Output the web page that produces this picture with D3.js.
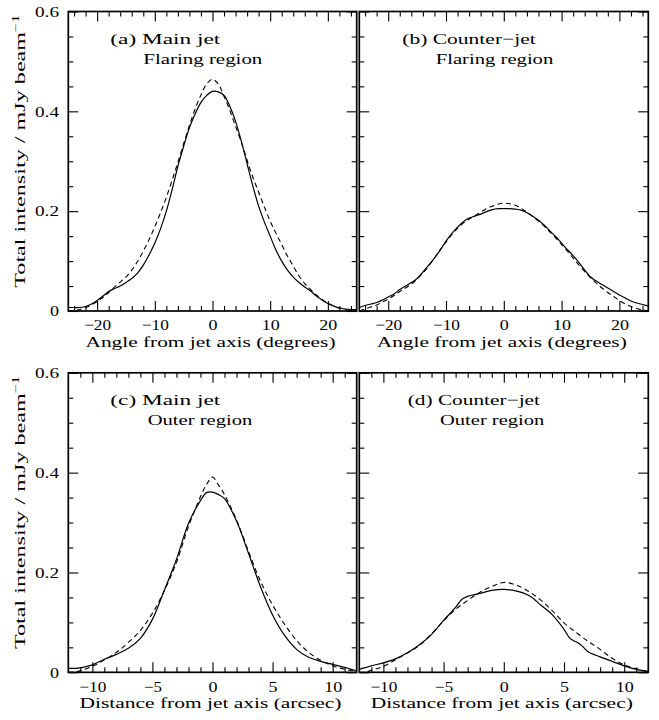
<!DOCTYPE html>
<html>
<head>
<meta charset="utf-8">
<script src="https://cdn.jsdelivr.net/npm/d3@7"></script>
<style>
  body { margin: 0; background: #fff; }
  svg { display: block; }
</style>
</head>
<body>
<svg id="chart" width="659" height="720"></svg>
<script>
// ---- transverse intensity profiles ----
// angle from jet axis (degrees), flaring region
const angleDeg = [-25,-24,-23,-22,-21,-20,-19,-18,-17,-16,-15,-14,-13,-12,-11,-10,-9,-8,-7,-6,
  -5,-4,-3,-2,-1,0,1,2,3,4,5,6,7,8,9,10,11,12,13,14,15,16,17,18,19,20,21,22,23,24,25];

// (a) main jet, flaring region: observed (solid) and model (dashed), mJy/beam
const mainFlaringObs = [0.007,0.007,0.007,0.009,0.014,0.021,0.030,0.039,0.045,0.050,
  0.057,0.065,0.076,0.092,0.112,0.136,0.165,0.200,0.243,0.290,
  0.330,0.367,0.395,0.418,0.432,0.440,0.439,0.432,0.410,0.380,
  0.340,0.295,0.250,0.210,0.178,0.150,0.122,0.100,0.082,0.068,
  0.057,0.048,0.040,0.030,0.022,0.015,0.010,0.006,0.004,0.003,0.003];
const mainFlaringModel = [0.000,0.000,0.003,0.007,0.012,0.019,0.027,0.037,0.048,0.058,
  0.068,0.082,0.099,0.120,0.143,0.169,0.197,0.228,0.262,0.298,
  0.335,0.372,0.405,0.433,0.455,0.464,0.455,0.430,0.402,0.370,
  0.338,0.302,0.268,0.238,0.208,0.180,0.156,0.133,0.110,0.090,
  0.070,0.055,0.043,0.032,0.023,0.016,0.010,0.006,0.003,0.001,0.000];

// (b) counter-jet, flaring region
const counterFlaringObs = [0.007,0.011,0.014,0.017,0.022,0.028,0.034,0.043,0.050,0.057,
  0.065,0.078,0.092,0.106,0.122,0.140,0.155,0.168,0.179,0.186,
  0.190,0.194,0.199,0.203,0.205,0.205,0.205,0.204,0.202,0.197,
  0.190,0.182,0.172,0.160,0.149,0.136,0.123,0.111,0.097,0.082,
  0.068,0.060,0.053,0.046,0.039,0.032,0.026,0.020,0.016,0.013,0.010];
const counterFlaringModel = [0.000,0.004,0.008,0.012,0.018,0.024,0.031,0.039,0.046,0.054,
  0.064,0.076,0.090,0.106,0.123,0.138,0.153,0.166,0.176,0.184,
  0.191,0.198,0.205,0.210,0.214,0.216,0.215,0.212,0.206,0.198,
  0.189,0.180,0.170,0.158,0.146,0.133,0.120,0.106,0.092,0.079,
  0.067,0.056,0.046,0.037,0.029,0.021,0.014,0.009,0.005,0.002,0.000];

// (c) main jet, outer region: distance from jet axis (arcsec)
const mainOuterObsX = [-12,-11,-10,-9,-8,-7,-6,-5,-4,-3,-2,-1,-0.5,0,0.5,1,2,3,4,5,6,7,8,9,10,11,12];
const mainOuterObs  = [0.008,0.009,0.015,0.026,0.036,0.048,0.068,0.106,0.165,0.226,0.298,0.344,0.360,0.361,0.356,0.348,0.303,0.238,0.171,0.115,0.074,0.046,0.030,0.022,0.016,0.010,0.003];
const mainOuterModelX = [-12,-11.5,-11,-10,-9,-8,-7,-6,-5,-4,-3,-2,-1,-0.5,0,0.5,1,2,3,4,5,6,7,8,9,10,11,12];
const mainOuterModel  = [0.000,0.000,0.003,0.012,0.025,0.040,0.060,0.084,0.118,0.164,0.220,0.292,0.352,0.376,0.391,0.375,0.356,0.305,0.242,0.182,0.135,0.096,0.064,0.040,0.024,0.013,0.006,0.002];

// (d) counter-jet, outer region
const counterOuterObsX = [-12,-11,-10,-9,-8,-7,-6,-5,-4,-3.5,-3,-2,-1,0,1,2,2.5,3,4,5,5.5,6,6.5,7,8,9,10,11,12];
const counterOuterObs  = [0.006,0.013,0.019,0.027,0.039,0.055,0.076,0.104,0.130,0.146,0.152,0.158,0.164,0.166,0.163,0.155,0.147,0.136,0.116,0.086,0.068,0.061,0.053,0.041,0.031,0.022,0.013,0.006,0.002];
const counterOuterModelX = [-12,-11.5,-11,-10,-9,-8,-7,-6,-5,-4,-3,-2,-1,0,1,2,3,4,5,6,7,8,9,10,11,12];
const counterOuterModel  = [0.000,0.000,0.004,0.012,0.025,0.039,0.054,0.077,0.103,0.126,0.144,0.160,0.172,0.180,0.175,0.163,0.146,0.124,0.099,0.080,0.062,0.046,0.028,0.015,0.007,0.001];

// ---- tick values and labels ----
const angleMajor = [-20,-10,0,10,20];
const angleMajorLabels = ["\u221220","\u221210","0","10","20"];
const angleMinor = [-24,-22,-18,-16,-14,-12,-8,-6,-4,-2,2,4,6,8,12,14,16,18,22,24];
const distMajor = [-10,-5,0,5,10];
const distMajorLabels = ["\u221210","\u22125","0","5","10"];
const distMinor = [-11,-9,-8,-7,-6,-4,-3,-2,-1,1,2,3,4,6,7,8,9,11];
const intensityMajor = [0,0.2,0.4,0.6];
const intensityMajorLabels = ["0","0.2","0.4","0.6"];
const intensityMinor = [0.05,0.1,0.15,0.25,0.3,0.35,0.45,0.5,0.55];

const yAxisTitle = "Total intensity / mJy beam";
const yAxisTitleSup = "\u22121";
const angleTitle = "Angle from jet axis (degrees)";
const distTitle = "Distance from jet axis (arcsec)";

// ---- layout ----
const FONT = "'Liberation Serif', 'Times New Roman', serif";
const FS = 15;
const svg = d3.select("#chart");
svg.append("rect").attr("width", 659).attr("height", 720).attr("fill", "#fff");

// wide plotter-style numerals: a fixed advance per character
const labelWidth = s => Array.from(s).reduce((w, c) => w + (c === "." ? 6 : 9), 0);

const panels = [
  { key: "a", left: 68.3, right: 356.7, top: 11.5, bottom: 311, xDomain: [-25, 25],
    xMajor: angleMajor, xLabels: angleMajorLabels, xMinor: angleMinor, yLabels: true,
    xTitle: angleTitle, xTitleLen: 250,
    sx: angleDeg, sy: mainFlaringObs, dx: angleDeg, dy: mainFlaringModel,
    lines: [["(a) Main jet", 42, 110], ["Flaring region", 75, 119]] },
  { key: "b", left: 359.3, right: 648.3, top: 11.5, bottom: 311, xDomain: [-25, 25],
    xMajor: angleMajor, xLabels: angleMajorLabels, xMinor: angleMinor, yLabels: false,
    xTitle: angleTitle, xTitleLen: 250,
    sx: angleDeg, sy: counterFlaringObs, dx: angleDeg, dy: counterFlaringModel,
    lines: [["(b) Counter\u2212jet", 43, 133.4], ["Flaring region", 76.4, 117.6]] },
  { key: "c", left: 68.3, right: 356.7, top: 372.8, bottom: 672.3, xDomain: [-12, 12],
    xMajor: distMajor, xLabels: distMajorLabels, xMinor: distMinor, yLabels: true,
    xTitle: distTitle, xTitleLen: 262,
    sx: mainOuterObsX, sy: mainOuterObs, dx: mainOuterModelX, dy: mainOuterModel,
    lines: [["(c) Main jet", 42, 110], ["Outer region", 79.4, 104.6]] },
  { key: "d", left: 359.3, right: 648.3, top: 372.8, bottom: 672.3, xDomain: [-12, 12],
    xMajor: distMajor, xLabels: distMajorLabels, xMinor: distMinor, yLabels: false,
    xTitle: distTitle, xTitleLen: 262,
    sx: counterOuterObsX, sy: counterOuterObs, dx: counterOuterModelX, dy: counterOuterModel,
    lines: [["(d) Counter\u2212jet", 48.4, 132.3], ["Outer region", 80.7, 104.3]] }
];

function styleAxis(g) {
  g.select(".domain").remove();
  g.selectAll(".tick line").attr("stroke", "#000").attr("stroke-width", 1.1);
  g.selectAll(".tick text").attr("fill", "#000")
    .attr("font-family", FONT).attr("font-size", FS)
    .each(function () {
      const s = this.textContent;
      if (s) d3.select(this).attr("textLength", labelWidth(s)).attr("lengthAdjust", "spacingAndGlyphs");
    });
  g.attr("font-family", FONT).attr("font-size", FS);
}

panels.forEach(p => {
  const x = d3.scaleLinear().domain(p.xDomain).range([p.left, p.right]);
  const y = d3.scaleLinear().domain([0, 0.6]).range([p.bottom, p.top]);
  const g = svg.append("g").attr("class", "panel-" + p.key);

  const clipId = "clip-" + p.key;
  svg.append("clipPath").attr("id", clipId)
    .append("rect").attr("x", p.left).attr("y", p.top)
    .attr("width", p.right - p.left).attr("height", p.bottom - p.top);

  const line = d3.line()
    .x(d => x(d[0])).y(d => y(d[1]))
    .curve(d3.curveCatmullRom.alpha(0.5));

  // model profile (dashed)
  g.append("path").datum(d3.zip(p.dx, p.dy))
    .attr("d", line).attr("fill", "none").attr("stroke", "#000")
    .attr("stroke-width", 1.1).attr("stroke-dasharray", "5,3.5")
    .attr("clip-path", `url(#${clipId})`);
  // observed profile (solid)
  g.append("path").datum(d3.zip(p.sx, p.sy))
    .attr("d", line).attr("fill", "none").attr("stroke", "#000")
    .attr("stroke-width", 1.2)
    .attr("clip-path", `url(#${clipId})`);

  // inward ticks on all four sides
  g.append("g").attr("transform", `translate(0,${p.bottom})`)
    .call(d3.axisBottom(x).tickValues(p.xMajor).tickSize(-10).tickPadding(8.6)
      .tickFormat((d, i) => p.xLabels[i])).call(styleAxis);
  g.append("g").attr("transform", `translate(0,${p.bottom})`)
    .call(d3.axisBottom(x).tickValues(p.xMinor).tickSize(-5).tickFormat("")).call(styleAxis);
  g.append("g").attr("transform", `translate(0,${p.top})`)
    .call(d3.axisTop(x).tickValues(p.xMajor).tickSize(-10).tickFormat("")).call(styleAxis);
  g.append("g").attr("transform", `translate(0,${p.top})`)
    .call(d3.axisTop(x).tickValues(p.xMinor).tickSize(-5).tickFormat("")).call(styleAxis);
  g.append("g").attr("transform", `translate(${p.left},0)`)
    .call(d3.axisLeft(y).tickValues(intensityMajor).tickSize(-10).tickPadding(9.3)
      .tickFormat((d, i) => p.yLabels ? intensityMajorLabels[i] : "")).call(styleAxis);
  g.append("g").attr("transform", `translate(${p.left},0)`)
    .call(d3.axisLeft(y).tickValues(intensityMinor).tickSize(-5).tickFormat("")).call(styleAxis);
  g.append("g").attr("transform", `translate(${p.right},0)`)
    .call(d3.axisRight(y).tickValues(intensityMajor).tickSize(-10).tickFormat("")).call(styleAxis);
  g.append("g").attr("transform", `translate(${p.right},0)`)
    .call(d3.axisRight(y).tickValues(intensityMinor).tickSize(-5).tickFormat("")).call(styleAxis);

  // frame
  g.append("rect").attr("x", p.left).attr("y", p.top)
    .attr("width", p.right - p.left).attr("height", p.bottom - p.top)
    .attr("fill", "none").attr("stroke", "#000").attr("stroke-width", 1.7);

  // panel annotation
  p.lines.forEach((ln, i) => {
    g.append("text").attr("x", p.left + ln[1]).attr("y", p.top + 32.5 + i * 20)
      .attr("font-family", FONT).attr("font-size", FS).attr("fill", "#000")
      .attr("textLength", ln[2]).attr("lengthAdjust", "spacingAndGlyphs")
      .text(ln[0]);
  });

  // x-axis title
  g.append("text").attr("x", (p.left + p.right) / 2 - 2).attr("y", p.bottom + 35.5)
    .attr("text-anchor", "middle").attr("font-family", FONT).attr("font-size", FS)
    .attr("fill", "#000").attr("textLength", p.xTitleLen).attr("lengthAdjust", "spacingAndGlyphs")
    .text(p.xTitle);

  // y-axis title on the left column
  if (p.yLabels) {
    const cy = (p.top + p.bottom) / 2 - 10;
    const t = g.append("text").attr("transform", `translate(25,${cy}) rotate(-90)`)
      .attr("text-anchor", "middle").attr("font-family", FONT).attr("font-size", FS)
      .attr("fill", "#000").attr("textLength", 273).attr("lengthAdjust", "spacingAndGlyphs");
    t.append("tspan").text(yAxisTitle);
    t.append("tspan").attr("font-size", 10).attr("dy", -6).text(yAxisTitleSup);
  }
});
</script>
</body>
</html>
